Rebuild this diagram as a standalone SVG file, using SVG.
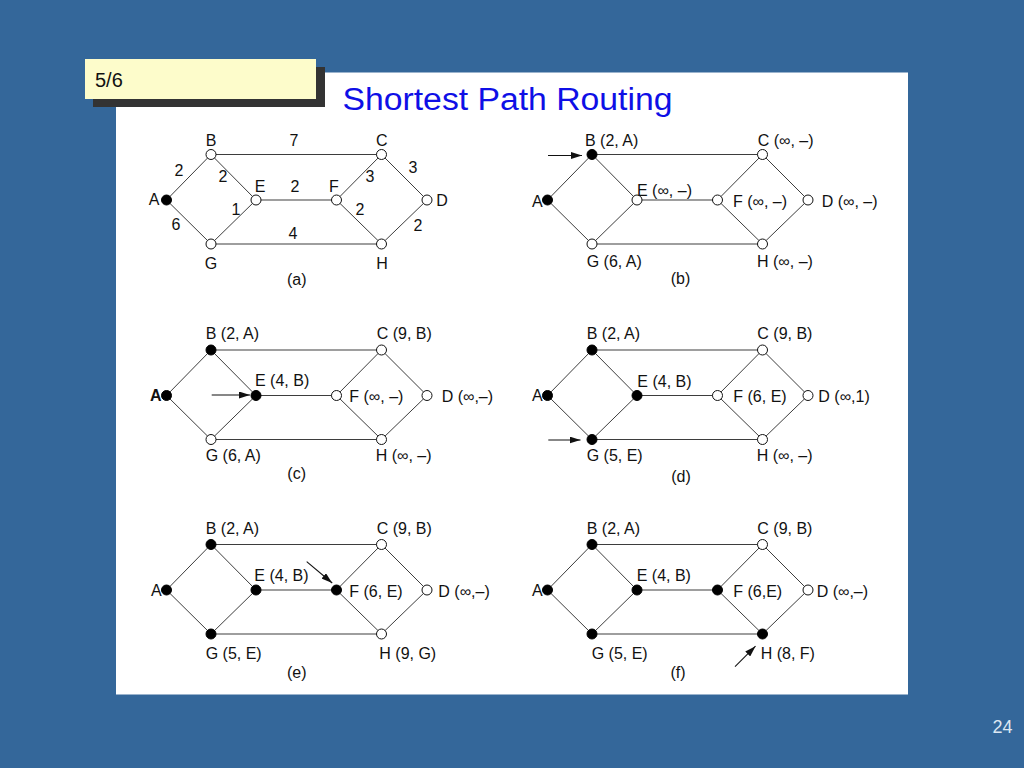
<svg xmlns="http://www.w3.org/2000/svg" width="1024" height="768" viewBox="0 0 1024 768">
<defs>
<style>
.e{stroke:#333;stroke-width:0.95;fill:none}
.o{fill:#fff;stroke:#111;stroke-width:1}
.f{fill:#000;stroke:#000;stroke-width:1}
.t{font-family:"Liberation Sans",Arial,Helvetica,sans-serif;font-size:16px;fill:#111}
.m{text-anchor:middle}
.r{text-anchor:end}
.ar{stroke:#111;stroke-width:1.1;fill:none;marker-end:url(#ah)}
</style>
<marker id="ah" viewBox="0 0 11 7" refX="11" refY="3.5" markerWidth="11" markerHeight="7" markerUnits="userSpaceOnUse" orient="auto">
<path d="M0,0 L11,3.5 L0,7 Z" fill="#111"/>
</marker>
</defs>
<rect width="1024" height="768" fill="#34679a"/>
<rect x="116" y="72.5" width="792" height="622" fill="#fff"/>
<g id="header">
<rect x="93" y="67" width="232" height="40" fill="#333"/>
<rect x="85" y="59" width="231" height="40" fill="#fdfccb"/>
<text x="95" y="87" font-family="Liberation Sans,Arial,sans-serif" font-size="20" fill="#111">5/6</text>
<text x="342.5" y="109.5" font-family="Liberation Sans,Arial,sans-serif" font-size="31" fill="#0f0fe6" textLength="330" lengthAdjust="spacingAndGlyphs">Shortest Path Routing</text>
</g>
<text x="1012.5" y="732.5" font-family="Liberation Sans,Arial,sans-serif" font-size="18" fill="#dde7f2" text-anchor="end">24</text>

<!-- Panel (a) -->
<g id="panel-a">
<g id="a-connectors">
<line class="e" x1="166.5" y1="200" x2="211" y2="154.5"/>
<line class="e" x1="166.5" y1="200" x2="211" y2="244"/>
<line class="e" x1="211" y1="154.5" x2="381.5" y2="154.5"/>
<line class="e" x1="211" y1="154.5" x2="256" y2="200"/>
<line class="e" x1="211" y1="244" x2="256" y2="200"/>
<line class="e" x1="256" y1="200" x2="336.5" y2="200"/>
<line class="e" x1="211" y1="244" x2="381.5" y2="244"/>
<line class="e" x1="336.5" y1="200" x2="381.5" y2="154.5"/>
<line class="e" x1="336.5" y1="200" x2="381.5" y2="244"/>
<line class="e" x1="381.5" y1="154.5" x2="427" y2="200"/>
<line class="e" x1="381.5" y1="244" x2="427" y2="200"/>
<text class="t m" x="294" y="146">7</text>
<text class="t m" x="179" y="176">2</text>
<text class="t m" x="223" y="182">2</text>
<text class="t m" x="295" y="192">2</text>
<text class="t m" x="370" y="182">3</text>
<text class="t m" x="413" y="173">3</text>
<text class="t m" x="236" y="215">1</text>
<text class="t m" x="360" y="215">2</text>
<text class="t m" x="176" y="230">6</text>
<text class="t m" x="293" y="239">4</text>
<text class="t m" x="418" y="231">2</text>
</g>
<g id="a-A"><circle class="f" cx="166.5" cy="200" r="5"/><text class="t m" x="154" y="205">A</text></g>
<g id="a-B"><circle class="o" cx="211" cy="154.5" r="5"/><text class="t m" x="211" y="146">B</text></g>
<g id="a-C"><circle class="o" cx="381.5" cy="154.5" r="5"/><text class="t m" x="381.7" y="146">C</text></g>
<g id="a-D"><circle class="o" cx="427" cy="200" r="5"/><text class="t m" x="442" y="206">D</text></g>
<g id="a-E"><circle class="o" cx="256" cy="200" r="5"/><text class="t m" x="260" y="192">E</text></g>
<g id="a-F"><circle class="o" cx="336.5" cy="200" r="5"/><text class="t m" x="334" y="192">F</text></g>
<g id="a-G"><circle class="o" cx="211" cy="244" r="5"/><text class="t m" x="211" y="269">G</text></g>
<g id="a-H"><circle class="o" cx="381.5" cy="244" r="5"/><text class="t m" x="382" y="269">H</text></g>
<text class="t m" x="296.7" y="285">(a)</text>
</g>

<!-- Panel (b) -->
<g id="panel-b" transform="translate(381,0)">
<g id="b-connectors">
<line class="e" x1="166.5" y1="200" x2="211" y2="154.5"/>
<line class="e" x1="166.5" y1="200" x2="211" y2="244"/>
<line class="e" x1="211" y1="154.5" x2="381.5" y2="154.5"/>
<line class="e" x1="211" y1="154.5" x2="256" y2="200"/>
<line class="e" x1="211" y1="244" x2="256" y2="200"/>
<line class="e" x1="256" y1="200" x2="336.5" y2="200"/>
<line class="e" x1="211" y1="244" x2="381.5" y2="244"/>
<line class="e" x1="336.5" y1="200" x2="381.5" y2="154.5"/>
<line class="e" x1="336.5" y1="200" x2="381.5" y2="244"/>
<line class="e" x1="381.5" y1="154.5" x2="427" y2="200"/>
<line class="e" x1="381.5" y1="244" x2="427" y2="200"/>
<line class="ar" x1="167" y1="155.5" x2="201" y2="155.5"/>
</g>
<g id="b-A"><circle class="f" cx="166.5" cy="200" r="5"/><text class="t r" x="161.7" y="206.5">A</text></g>
<g id="b-B"><circle class="f" cx="211" cy="154.5" r="5"/><text class="t" x="204" y="146">B (2, A)</text></g>
<g id="b-C"><circle class="o" cx="381.5" cy="154.5" r="5"/><text class="t" x="376.7" y="146">C (∞, –)</text></g>
<g id="b-D"><circle class="o" cx="427" cy="200" r="5"/><text class="t" x="440.7" y="207">D (∞, –)</text></g>
<g id="b-E"><circle class="o" cx="256" cy="200" r="5"/><text class="t" x="256" y="196">E (∞, –)</text></g>
<g id="b-F"><circle class="o" cx="336.5" cy="200" r="5"/><text class="t" x="352" y="207">F (∞, –)</text></g>
<g id="b-G"><circle class="o" cx="211" cy="244" r="5"/><text class="t" x="205.7" y="267">G (6, A)</text></g>
<g id="b-H"><circle class="o" cx="381.5" cy="244" r="5"/><text class="t" x="376" y="267">H (∞, –)</text></g>
<text class="t m" x="299.5" y="284">(b)</text>
</g>

<!-- Panel (c) -->
<g id="panel-c" transform="translate(0,195.5)">
<g id="c-connectors">
<line class="e" x1="166.5" y1="200" x2="211" y2="154.5"/>
<line class="e" x1="166.5" y1="200" x2="211" y2="244"/>
<line class="e" x1="211" y1="154.5" x2="381.5" y2="154.5"/>
<line class="e" x1="211" y1="154.5" x2="256" y2="200"/>
<line class="e" x1="211" y1="244" x2="256" y2="200"/>
<line class="e" x1="256" y1="200" x2="336.5" y2="200"/>
<line class="e" x1="211" y1="244" x2="381.5" y2="244"/>
<line class="e" x1="336.5" y1="200" x2="381.5" y2="154.5"/>
<line class="e" x1="336.5" y1="200" x2="381.5" y2="244"/>
<line class="e" x1="381.5" y1="154.5" x2="427" y2="200"/>
<line class="e" x1="381.5" y1="244" x2="427" y2="200"/>
<line class="ar" x1="211.7" y1="199.5" x2="250" y2="199.5"/>
</g>
<g id="c-A"><circle class="f" cx="166.5" cy="200" r="5"/><text class="t r" x="161.5" y="205.2" font-weight="bold">A</text></g>
<g id="c-B"><circle class="f" cx="211" cy="154.5" r="5"/><text class="t" x="205.7" y="143.5">B (2, A)</text></g>
<g id="c-C"><circle class="o" cx="381.5" cy="154.5" r="5"/><text class="t" x="376.7" y="143.5">C (9, B)</text></g>
<g id="c-D"><circle class="o" cx="427" cy="200" r="5"/><text class="t" x="441.7" y="206.5">D (∞,–)</text></g>
<g id="c-E"><circle class="f" cx="256" cy="200" r="5"/><text class="t" x="255" y="190.5">E (4, B)</text></g>
<g id="c-F"><circle class="o" cx="336.5" cy="200" r="5"/><text class="t" x="349.3" y="206.5">F (∞, –)</text></g>
<g id="c-G"><circle class="o" cx="211" cy="244" r="5"/><text class="t" x="205.7" y="265.5">G (6, A)</text></g>
<g id="c-H"><circle class="o" cx="381.5" cy="244" r="5"/><text class="t" x="375.7" y="265.5">H (∞, –)</text></g>
<text class="t m" x="296.7" y="283.5">(c)</text>
</g>

<!-- Panel (d) -->
<g id="panel-d" transform="translate(381,195.5)">
<g id="d-connectors">
<line class="e" x1="166.5" y1="200" x2="211" y2="154.5"/>
<line class="e" x1="166.5" y1="200" x2="211" y2="244"/>
<line class="e" x1="211" y1="154.5" x2="381.5" y2="154.5"/>
<line class="e" x1="211" y1="154.5" x2="256" y2="200"/>
<line class="e" x1="211" y1="244" x2="256" y2="200"/>
<line class="e" x1="256" y1="200" x2="336.5" y2="200"/>
<line class="e" x1="211" y1="244" x2="381.5" y2="244"/>
<line class="e" x1="336.5" y1="200" x2="381.5" y2="154.5"/>
<line class="e" x1="336.5" y1="200" x2="381.5" y2="244"/>
<line class="e" x1="381.5" y1="154.5" x2="427" y2="200"/>
<line class="e" x1="381.5" y1="244" x2="427" y2="200"/>
<line class="ar" x1="167.3" y1="244.5" x2="199.5" y2="244.5"/>
</g>
<g id="d-A"><circle class="f" cx="166.5" cy="200" r="5"/><text class="t r" x="161.7" y="205">A</text></g>
<g id="d-B"><circle class="f" cx="211" cy="154.5" r="5"/><text class="t" x="205.7" y="143.5">B (2, A)</text></g>
<g id="d-C"><circle class="o" cx="381.5" cy="154.5" r="5"/><text class="t" x="376.3" y="143.5">C (9, B)</text></g>
<g id="d-D"><circle class="o" cx="427" cy="200" r="5"/><text class="t" x="437.3" y="206.5">D (∞,1)</text></g>
<g id="d-E"><circle class="f" cx="256" cy="200" r="5"/><text class="t" x="256.3" y="191.5">E (4, B)</text></g>
<g id="d-F"><circle class="o" cx="336.5" cy="200" r="5"/><text class="t" x="352.3" y="206.5">F (6, E)</text></g>
<g id="d-G"><circle class="f" cx="211" cy="244" r="5"/><text class="t" x="205.7" y="265.5">G (5, E)</text></g>
<g id="d-H"><circle class="o" cx="381.5" cy="244" r="5"/><text class="t" x="375.7" y="265.5">H (∞, –)</text></g>
<text class="t m" x="300" y="286">(d)</text>
</g>

<!-- Panel (e) -->
<g id="panel-e" transform="translate(0,390)">
<g id="e-connectors">
<line class="e" x1="166.5" y1="200" x2="211" y2="154.5"/>
<line class="e" x1="166.5" y1="200" x2="211" y2="244"/>
<line class="e" x1="211" y1="154.5" x2="381.5" y2="154.5"/>
<line class="e" x1="211" y1="154.5" x2="256" y2="200"/>
<line class="e" x1="211" y1="244" x2="256" y2="200"/>
<line class="e" x1="256" y1="200" x2="336.5" y2="200"/>
<line class="e" x1="211" y1="244" x2="381.5" y2="244"/>
<line class="e" x1="336.5" y1="200" x2="381.5" y2="154.5"/>
<line class="e" x1="336.5" y1="200" x2="381.5" y2="244"/>
<line class="e" x1="381.5" y1="154.5" x2="427" y2="200"/>
<line class="e" x1="381.5" y1="244" x2="427" y2="200"/>
<line class="ar" x1="306.7" y1="171.7" x2="332.2" y2="193"/>
</g>
<g id="e-A"><circle class="f" cx="166.5" cy="200" r="5"/><text class="t r" x="161.7" y="205.7">A</text></g>
<g id="e-B"><circle class="f" cx="211" cy="154.5" r="5"/><text class="t" x="205.7" y="144">B (2, A)</text></g>
<g id="e-C"><circle class="o" cx="381.5" cy="154.5" r="5"/><text class="t" x="376.7" y="144">C (9, B)</text></g>
<g id="e-D"><circle class="o" cx="427" cy="200" r="5"/><text class="t" x="438.3" y="207">D (∞,–)</text></g>
<g id="e-E"><circle class="f" cx="256" cy="200" r="5"/><text class="t" x="254.3" y="191">E (4, B)</text></g>
<g id="e-F"><circle class="f" cx="336.5" cy="200" r="5"/><text class="t" x="349.3" y="207">F (6, E)</text></g>
<g id="e-G"><circle class="f" cx="211" cy="244" r="5"/><text class="t" x="205.7" y="269">G (5, E)</text></g>
<g id="e-H"><circle class="o" cx="381.5" cy="244" r="5"/><text class="t" x="379.3" y="269">H (9, G)</text></g>
<text class="t m" x="296.7" y="287.5">(e)</text>
</g>

<!-- Panel (f) -->
<g id="panel-f" transform="translate(381,390)">
<g id="f-connectors">
<line class="e" x1="166.5" y1="200" x2="211" y2="154.5"/>
<line class="e" x1="166.5" y1="200" x2="211" y2="244"/>
<line class="e" x1="211" y1="154.5" x2="381.5" y2="154.5"/>
<line class="e" x1="211" y1="154.5" x2="256" y2="200"/>
<line class="e" x1="211" y1="244" x2="256" y2="200"/>
<line class="e" x1="256" y1="200" x2="336.5" y2="200"/>
<line class="e" x1="211" y1="244" x2="381.5" y2="244"/>
<line class="e" x1="336.5" y1="200" x2="381.5" y2="154.5"/>
<line class="e" x1="336.5" y1="200" x2="381.5" y2="244"/>
<line class="e" x1="381.5" y1="154.5" x2="427" y2="200"/>
<line class="e" x1="381.5" y1="244" x2="427" y2="200"/>
<line class="ar" x1="354" y1="276.7" x2="374.5" y2="256.2"/>
</g>
<g id="f-A"><circle class="f" cx="166.5" cy="200" r="5"/><text class="t r" x="161.7" y="205.7">A</text></g>
<g id="f-B"><circle class="f" cx="211" cy="154.5" r="5"/><text class="t" x="205.7" y="144">B (2, A)</text></g>
<g id="f-C"><circle class="o" cx="381.5" cy="154.5" r="5"/><text class="t" x="376.3" y="144">C (9, B)</text></g>
<g id="f-D"><circle class="o" cx="427" cy="200" r="5"/><text class="t" x="435.7" y="207">D (∞,–)</text></g>
<g id="f-E"><circle class="f" cx="256" cy="200" r="5"/><text class="t" x="255.7" y="191">E (4, B)</text></g>
<g id="f-F"><circle class="f" cx="336.5" cy="200" r="5"/><text class="t" x="352.3" y="207">F (6,E)</text></g>
<g id="f-G"><circle class="f" cx="211" cy="244" r="5"/><text class="t" x="210.7" y="269">G (5, E)</text></g>
<g id="f-H"><circle class="f" cx="381.5" cy="244" r="5"/><text class="t" x="379.7" y="269">H (8, F)</text></g>
<text class="t m" x="297" y="287.5">(f)</text>
</g>
</svg>
